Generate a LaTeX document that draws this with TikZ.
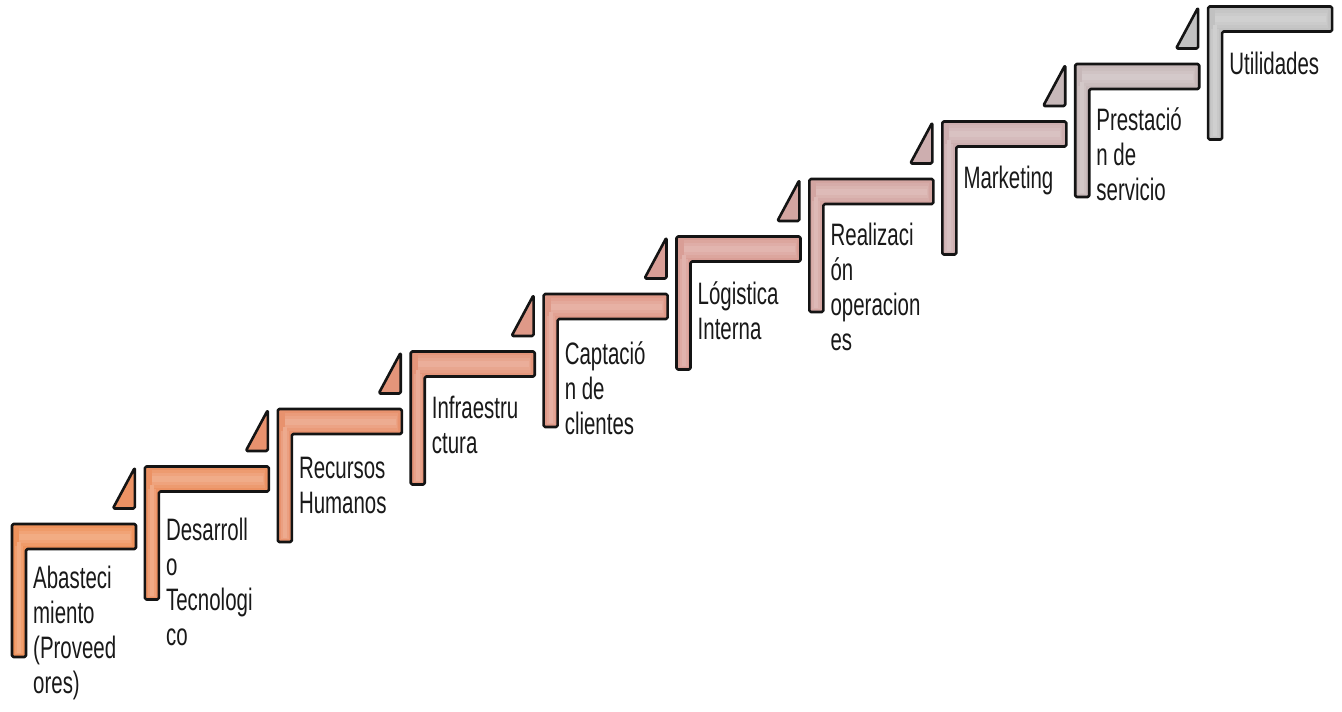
\documentclass[tikz,border=0pt]{standalone}
\usepackage{fontspec}
\newfontfamily\nar[FakeStretch=0.66]{Liberation Sans}
\definecolor{c1}{RGB}{238,146,92}
\definecolor{c2}{RGB}{236,146,100}
\definecolor{c3}{RGB}{232,146,110}
\definecolor{c4}{RGB}{228,149,122}
\definecolor{c5}{RGB}{223,153,136}
\definecolor{c6}{RGB}{217,158,150}
\definecolor{c7}{RGB}{211,165,161}
\definecolor{c8}{RGB}{205,174,175}
\definecolor{c9}{RGB}{199,184,185}
\definecolor{c10}{RGB}{193,193,193}
\tikzset{
  stair/.style={draw=black!92, line width=2.6pt, rounded corners=1.5pt, line join=round},
  lbl/.style={anchor=base west, inner sep=0pt, font=\nar\fontsize{31}{35}\selectfont, text=black!90},
}
\newcommand\stairstep[5]{%
  \pgfmathsetmacro\sL{12+(#1-1)*132.9}%
  \pgfmathsetmacro\sT{524-(#1-1)*57.5}%
  \ifnum#1>1
    \draw[stair, fill=#2] ({\sL-32},{\sT+42}) -- ({\sL-10},{\sT+42}) -- ({\sL-10},{\sT+1}) -- cycle;
  \fi
  \draw[stair, fill=#2] (\sL,\sT) -- ++(124,0) -- ++(0,25) -- ++(-110,0) -- ++(0,108) -- ++(-14,0) -- cycle;
  \draw[#2!92!white, line width=18pt] ({\sL+7},{\sT+12.5}) -- ({\sL+120},{\sT+12.5});
  \draw[#2!84!white, line width=12pt] ({\sL+7},{\sT+12.5}) -- ({\sL+119},{\sT+12.5});
  \draw[#2!76!white, line width=6pt] ({\sL+7},{\sT+12.5}) -- ({\sL+118},{\sT+12.5});
  \draw[#2!88!white, line width=8pt] ({\sL+7},{\sT+22}) -- ({\sL+7},{\sT+130});
  \draw[#2!78!white, line width=4pt] ({\sL+7},{\sT+18}) -- ({\sL+7},{\sT+129});
  \node[lbl] (t#1) at ({\sL+21},{\sT+#5}) {\begin{tabular}[t]{@{}l@{}}#3\end{tabular}};
}
\begin{document}
\begin{tikzpicture}[x=1pt,y=-1pt]
\useasboundingbox[fill=white] (0,0) rectangle (1342,712);
\stairstep{1}{c1}{Abasteci\\miento\\(Proveed\\ores)}{}{64}
\stairstep{2}{c2}{Desarroll\\o\\Tecnologi\\co}{}{74}
\stairstep{3}{c3}{Recursos\\Humanos}{}{69}
\stairstep{4}{c4}{Infraestru\\ctura}{}{67}
\stairstep{5}{c5}{Captació\\n de\\clientes}{}{70}
\stairstep{6}{c6}{Lógistica\\Interna}{}{68}
\stairstep{7}{c7}{Realizaci\\ón\\operacion\\es}{}{66}
\stairstep{8}{c8}{Marketing}{}{67}
\stairstep{9}{c9}{Prestació\\n de\\servicio}{}{66}
\stairstep{10}{c10}{Utilidades}{}{68}
\end{tikzpicture}
\end{document}
